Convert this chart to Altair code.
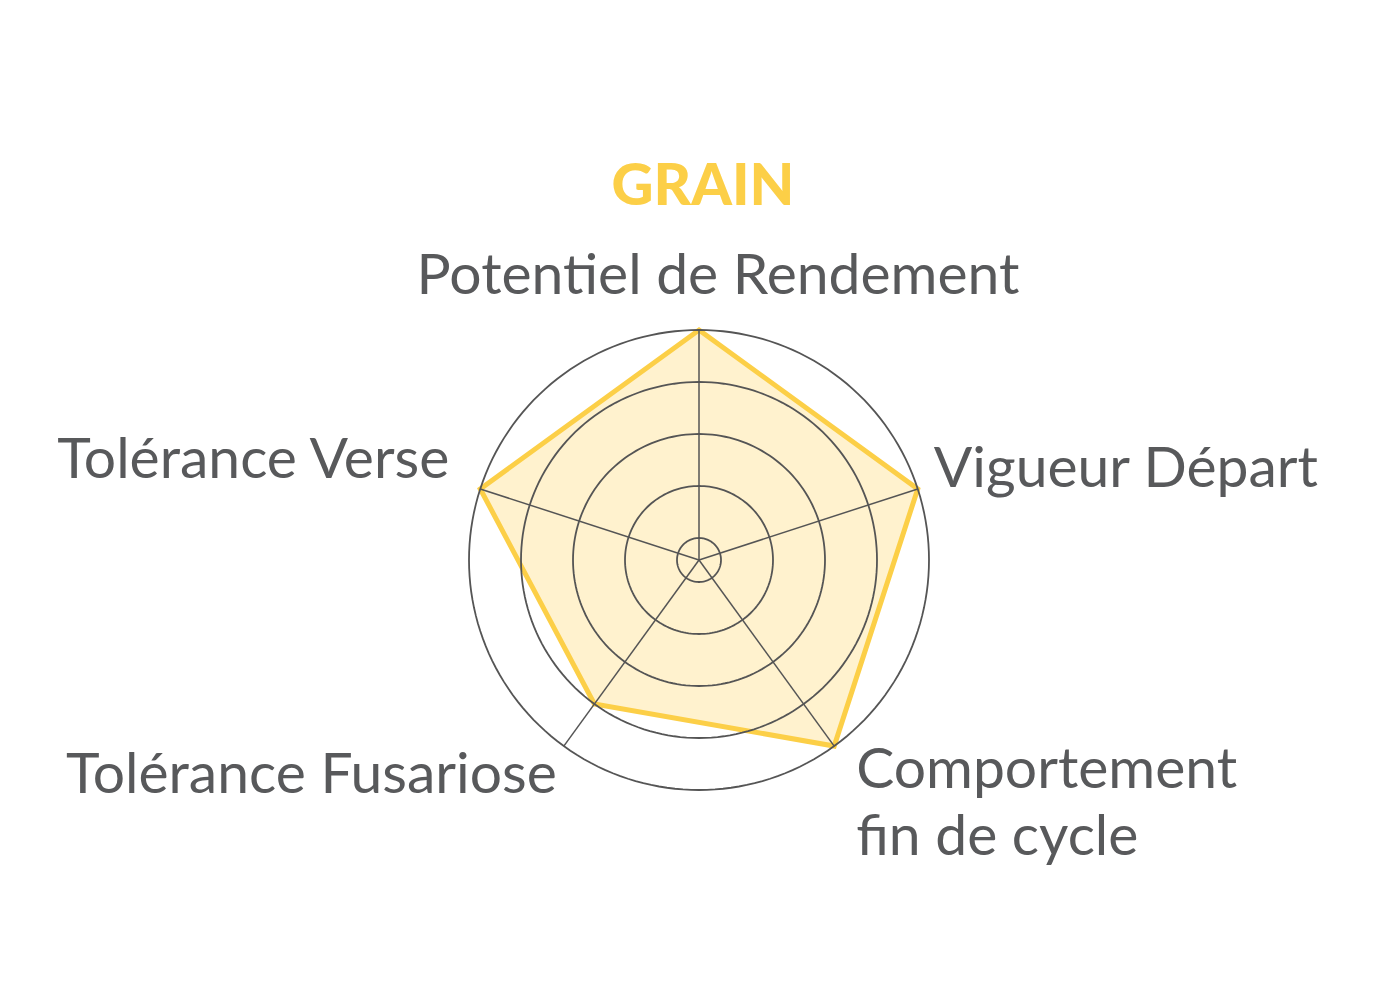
import altair as alt
import pandas as pd

# ---- data ----
AXES = ["Potentiel de Rendement", "Vigueur Départ", "Comportement\nfin de cycle",
        "Tolérance Fusariose", "Tolérance Verse"]
SCORES = [5, 5, 5, 4, 5]
RINGS = [1, 2, 3, 4, 5]
TITLE = ["GRAIN"]

# ---- layout / style ----
SCALE_MIN, SCALE_MAX = 1, 5
R_IN, R_OUT = 22, 230
W, H = 1384, 984
CX, CY = 691, 552
FONT = "Lato"
TEXT_COLOR = "#58595B"
GRID_COLOR = "#555555"
YELLOW = "#FCCF47"
FILL = "#FFF2CE"
N = len(AXES)

XS = alt.Scale(domain=[-CX, W - CX], nice=False, zero=False)
YS = alt.Scale(domain=[CY - H, CY], nice=False, zero=False)

df = pd.DataFrame({"axis": AXES, "score": SCORES, "idx": list(range(N))})

R_EXPR = f"{R_IN} + (datum.score - {SCALE_MIN}) / {SCALE_MAX - SCALE_MIN} * {R_OUT - R_IN}"
ANG_EXPR = f"datum.idx * 2 * PI / {N}"


def xy(chart):
    return chart.transform_calculate(
        r=R_EXPR, ang=ANG_EXPR
    ).transform_calculate(
        px="datum.r * sin(datum.ang)", py="datum.r * cos(datum.ang)"
    )


# polygon (fill + outline)
poly = xy(alt.Chart(df)).mark_line(
    interpolate="linear-closed", fill=FILL, stroke=YELLOW, strokeWidth=5,
    strokeJoin="miter"
).encode(
    x=alt.X("px:Q", scale=XS, axis=None),
    y=alt.Y("py:Q", scale=YS, axis=None),
    order=alt.Order("idx:Q"),
)

# rings
rings = []
for rv in RINGS:
    ring = alt.Chart(alt.sequence(0, 362, 2, as_="deg")).transform_calculate(
        r=f"{R_IN} + ({rv} - {SCALE_MIN}) / {SCALE_MAX - SCALE_MIN} * {R_OUT - R_IN}"
    ).transform_calculate(
        px="datum.r * sin(datum.deg * PI / 180)",
        py="datum.r * cos(datum.deg * PI / 180)",
    ).mark_line(stroke=GRID_COLOR, strokeWidth=1.8).encode(
        x=alt.X("px:Q", scale=XS, axis=None),
        y=alt.Y("py:Q", scale=YS, axis=None),
        order=alt.Order("deg:Q"),
    )
    rings.append(ring)

# spokes
spokes = alt.Chart(df).transform_calculate(
    ang=ANG_EXPR
).transform_calculate(
    x0="0", y0="0",
    xe=f"{R_OUT} * sin(datum.ang)", ye=f"{R_OUT} * cos(datum.ang)",
).mark_rule(stroke=GRID_COLOR, strokeWidth=1.5).encode(
    x=alt.X("x0:Q", scale=XS, axis=None),
    y=alt.Y("y0:Q", scale=YS, axis=None),
    x2="xe:Q",
    y2="ye:Q",
)

# axis labels
LABEL_STYLE = [
    dict(align="center", dx=19, dy=-36),
    dict(align="left", dx=16, dy=-2),
    dict(align="left", dx=22, dy=42),
    dict(align="right", dx=-7, dy=47),
    dict(align="right", dx=-31, dy=-11),
]
labels = []
for i, st in enumerate(LABEL_STYLE):
    lab = alt.Chart(df).transform_filter(f"datum.idx == {i}").transform_calculate(
        ang=ANG_EXPR
    ).transform_calculate(
        lx=f"{R_OUT} * sin(datum.ang)", ly=f"{R_OUT} * cos(datum.ang)"
    ).mark_text(
        font=FONT, fontSize=57, color=TEXT_COLOR, baseline="alphabetic",
        lineBreak="\n", lineHeight=67, **st
    ).encode(
        x=alt.X("lx:Q", scale=XS, axis=None),
        y=alt.Y("ly:Q", scale=YS, axis=None),
        text="axis:N",
    )
    labels.append(lab)

title = alt.Chart(pd.DataFrame({"t": TITLE})).mark_text(
    font=FONT, fontSize=58, fontWeight=900, color=YELLOW,
    align="center", baseline="alphabetic"
).encode(x=alt.value(695), y=alt.value(197), text="t:N")

chart = alt.layer(poly, *rings, spokes, *labels, title).properties(
    width=W, height=H, autosize=alt.AutoSizeParams(type="none"), padding=0
).configure_view(stroke=None)

chart.save("out.html", embed_options={"renderer": "svg", "actions": False})
